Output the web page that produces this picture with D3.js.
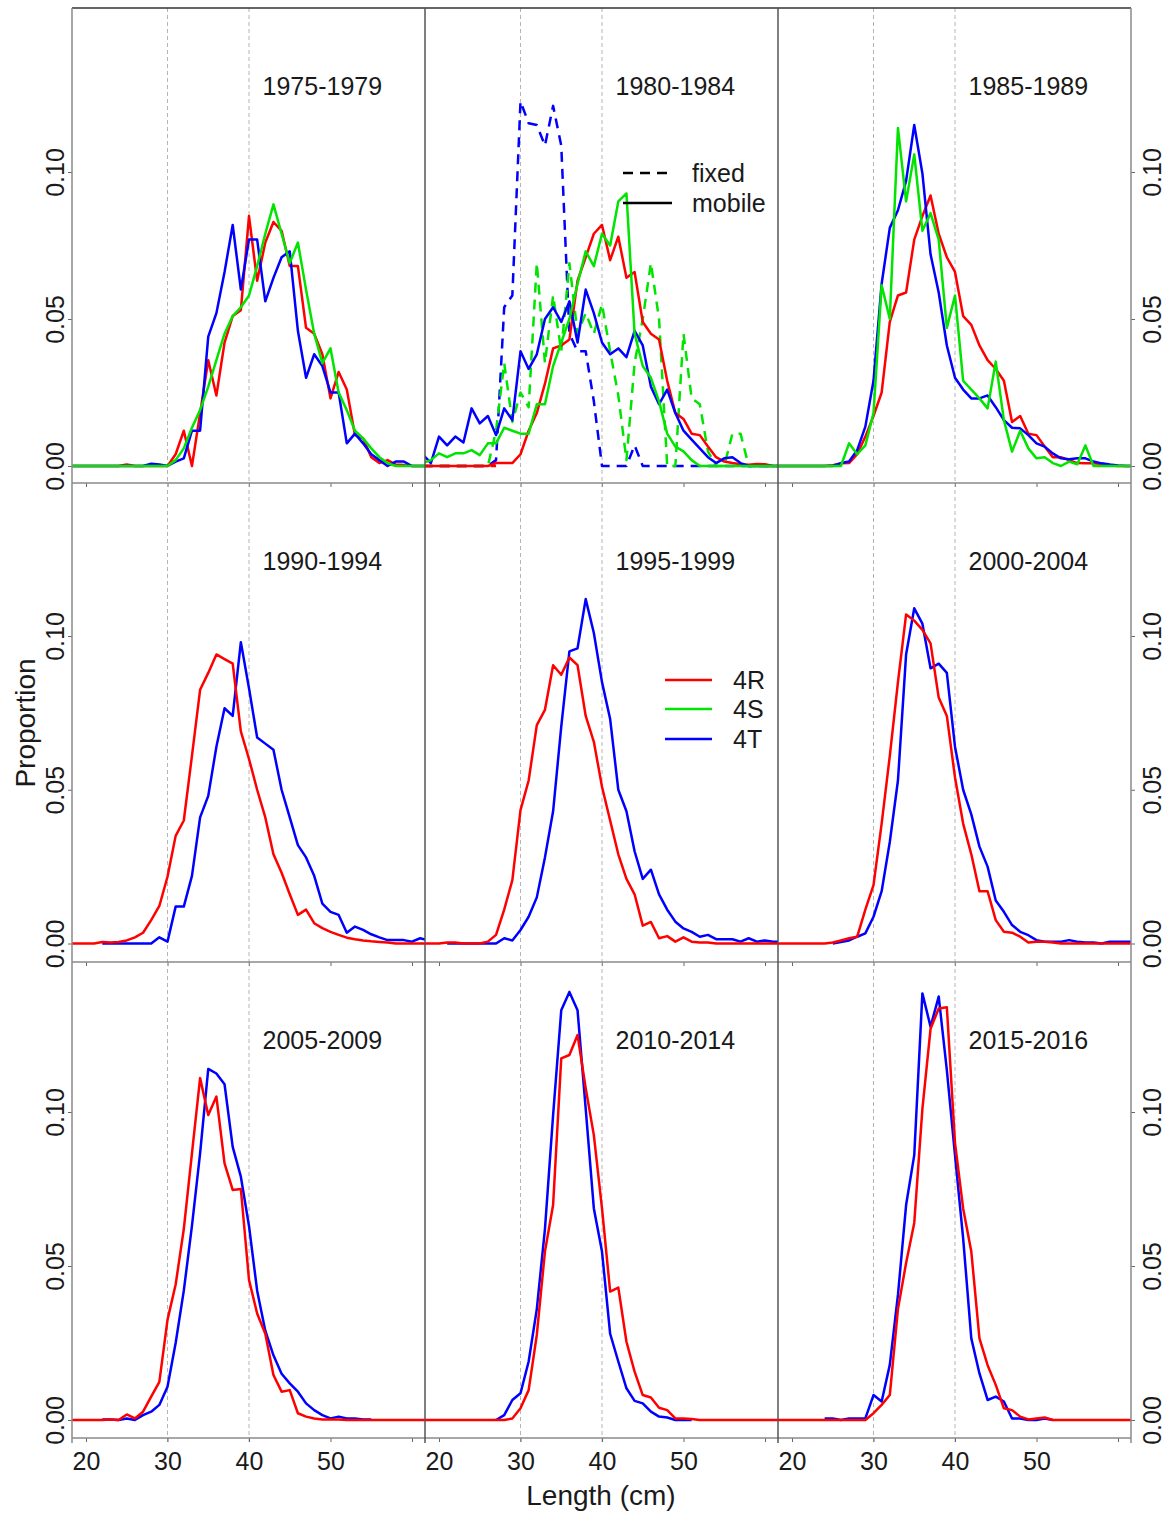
<!DOCTYPE html>
<html>
<head>
<meta charset="utf-8">
<script src="https://d3js.org/d3.v7.min.js"></script>
<style>
body { margin: 0; background: #fff; }
text { font-family: "Liberation Sans", Arial, sans-serif; fill: #1a1a1a; }
</style>
</head>
<body>
<script>
// length bins (cm)
var lengths = [18,19,20,21,22,23,24,25,26,27,28,29,
               30,31,32,33,34,35,36,37,38,39,
               40,41,42,43,44,45,46,47,48,49,
               50,51,52,53,54,55,56,57,58,59,60,61,62];

var periods = ["1975-1979","1980-1984","1985-1989",
               "1990-1994","1995-1999","2000-2004",
               "2005-2009","2010-2014","2015-2016"];

var xTicks = [20,30,40,50,60];
var yTicks = [0,0.05,0.10];
var gridAt = [30,40];

// 1975-1979 (mobile)
var r7579 = [0,0,0,0,0,0,0,0.0005,0,0,0,0,
  0,0.004,0.012,0,0.018,0.036,0.024,0.042,0.051,0.053,
  0.085,0.063,0.076,0.083,0.080,0.068,0.068,0.047,0.045,0.038,
  0.023,0.032,0.026,0.0105,0.0094,0.003,0.001,0.002,0.0005,0.0003,0,0,0];
var s7579 = [0,0,0,0,0,0,0,0,0,0,0,0,
  0,0.002,0.006,0.013,0.019,0.027,0.036,0.045,0.051,0.054,
  0.058,0.068,0.079,0.089,0.079,0.069,0.076,0.060,0.045,0.035,
  0.040,0.025,0.019,0.012,0.0094,0.006,0.003,0.001,0,0,0,0,0];
var t7579 = [0,0,0,0,0,0,0,0,0,0,0.0008,0.0005,
  0,0.0015,0.0026,0.012,0.012,0.044,0.052,0.066,0.082,0.060,
  0.077,0.077,0.056,0.064,0.071,0.073,0.046,0.030,0.038,0.034,
  0.025,0.025,0.0077,0.011,0.0077,0.004,0.002,0,0.0015,0.0015,0,0,0];

// 1980-1984 mobile
var r8084 = [0,0,0,0,0,0,0,0,0,0.001,0.001,0.001,
  0.004,0.012,0.018,0.028,0.040,0.041,0.043,0.063,0.071,0.079,
  0.082,0.070,0.078,0.064,0.066,0.049,0.045,0.043,0.029,0.018,
  0.016,0.011,0.0105,0.0066,0.003,0.0015,0.001,0.0006,0.0004,0.0007,0.0006,0,0];
var s8084 = [0.001,0.002,0.0043,0.003,0.0043,0.0043,0.0054,0.0037,0.0077,0.0077,0.013,0.012,
  0.011,0.011,0.021,0.021,0.034,0.042,0.050,0.062,0.073,0.068,
  0.079,0.075,0.090,0.0927,0.045,0.034,0.030,0.022,0.011,0.0066,
  0.005,0.002,0,0,0,0,0,0,0,0,0,0,0];
var t8084 = [0.004,0.001,0.010,0.007,0.010,0.008,0.0196,0.0145,0.017,0.0105,0.0196,0.0156,
  0.039,0.033,0.038,0.050,0.054,0.049,0.056,0.042,0.060,0.052,
  0.042,0.038,0.040,0.037,0.046,0.041,0.027,0.021,0.026,0.018,
  0.012,0.009,0.006,0.003,0.001,0.0026,0.003,0.001,0,0,0,0,0];
// 1980-1984 fixed
var r8084f = [0,0,0,0,0,0,0,0,0,0,null,null,
  null,null,null,null,null,null,null,null,null,null,
  null,null,null,null,null,null,null,null,null,null,
  null,null,null,null,null,null,null,null,null,null,null,null,null];
var s8084f = [0,0,0,0,0,0,0,0,0,0.012,0.035,0.015,
  0.025,0.020,0.069,0.035,0.058,0.039,0.069,0.045,0.052,0.045,
  0.055,0.039,0.024,0.002,0.035,0.050,0.069,0.050,0,0,
  0.045,0.023,0.021,0.005,0,0,0.011,0.011,0,0,0,0,0];
var t8084f = [0,0,0,0,0,0,0,0,0,0.002,0.054,0.058,
  0.124,0.1166,0.116,0.109,0.1225,0.109,0.045,0.039,0.039,0.022,
  0,0,0,0,0.007,0,0,0,0,0,
  0,0,0,0,0,0,0,0,0,0,0,0,0];

// 1985-1989
var r8589 = [0,0,0,0,0,0,0,0.0003,0.0009,0.001,0.004,0.010,
  0.017,0.025,0.049,0.058,0.059,0.077,0.085,0.092,0.079,0.071,
  0.066,0.051,0.048,0.041,0.036,0.033,0.029,0.015,0.017,0.011,
  0.0105,0.0066,0.003,0.003,0.002,0.001,0.0009,0.0009,0.0007,0.0002,0,0,0];
var s8589 = [0,0,0,0,0,0,0,0,0,0.0077,0.004,0.007,
  0.018,0.0615,0.050,0.115,0.090,0.106,0.080,0.086,0.077,0.047,
  0.058,0.029,0.026,0.023,0.0196,0.0355,0.0156,0.0049,0.012,0.006,
  0.0026,0.003,0.001,0,0.0015,0.0006,0.007,0,0,0,0,0,0];
var t8589 = [0,0,0,0,0,0,0,0,0.001,0.0015,0.0054,0.0134,
  0.029,0.062,0.081,0.087,0.097,0.116,0.0995,0.072,0.059,0.041,
  0.030,0.026,0.023,0.023,0.024,0.020,0.0156,0.013,0.0128,0.0105,
  0.0077,0.0066,0.0043,0.0026,0.0023,0.0026,0.0026,0.0015,0.0009,0.0005,0.0002,0,0];

// 1990-1994
var r9094 = [0,0,0,0,0.0005,0.0003,0.0005,0.001,0.002,0.0035,0.0076,0.0122,
  0.0217,0.035,0.040,0.061,0.0825,0.088,0.094,0.0925,0.091,0.069,
  0.060,0.050,0.041,0.029,0.023,0.016,0.0093,0.011,0.0066,0.005,
  0.0038,0.0028,0.0019,0.0014,0.001,0.0007,0.0005,0.0003,0,0,0,0,0];
var t9094 = [null,null,null,null,0,0,0,0,0,0,0,0.002,
  0.0006,0.012,0.012,0.022,0.041,0.048,0.064,0.0765,0.074,0.098,
  0.083,0.067,0.065,0.063,0.050,0.041,0.032,0.028,0.022,0.013,
  0.0103,0.0093,0.0035,0.0055,0.0044,0.003,0.002,0.0011,0.0011,0.0011,0.0006,0.0017,0.001];

// 1995-1999
var r9599 = [0,0,0,0.0003,0.0003,0,0,0,0.0006,0.0028,0.011,0.0206,
  0.0434,0.053,0.071,0.076,0.0905,0.0874,0.093,0.0905,0.074,0.0656,
  0.051,0.040,0.029,0.021,0.016,0.0058,0.007,0.0017,0.0024,0.0006,
  0.002,0.0006,0.0003,0.0003,0,0,0,0,0,0,0,0,0];
var t9599 = [null,null,null,0,0,0,0,0,0,0,0.0017,0.001,
  0.0044,0.0087,0.015,0.028,0.043,0.0705,0.095,0.096,0.112,0.101,
  0.085,0.073,0.050,0.043,0.030,0.021,0.024,0.016,0.011,0.0071,
  0.0049,0.0038,0.0022,0.0028,0.0014,0.0014,0.0014,0.0006,0.0017,0.0006,0.001,0.0006,0.0006];

// 2000-2004
var r0004 = [0,0,0,0,0,0,0,0.0003,0.001,0.0017,0.0022,0.011,
  0.019,0.039,0.061,0.085,0.107,0.105,0.102,0.0976,0.080,0.074,
  0.054,0.039,0.029,0.017,0.017,0.0076,0.0038,0.0035,0.0022,0.0003,
  0.0006,0.0006,0.0003,0,0,0,0,0,0,0,0,0,0];
var t0004 = [null,null,null,null,null,null,null,0,0.0005,0.001,0.0022,0.0033,
  0.0087,0.017,0.033,0.053,0.094,0.109,0.104,0.0895,0.091,0.088,
  0.064,0.050,0.042,0.0315,0.025,0.014,0.0103,0.006,0.0038,0.0027,
  0.0011,0.0006,0.0006,0.0006,0.0011,0.0006,0.0003,0.0003,0,0.0006,0.0006,0.0006,0.0006];

// 2005-2009
var r0509 = [0,0,0,0,0,0.0002,0,0.0018,0.0005,0.0027,0.0076,0.0124,
  0.0325,0.044,0.062,0.0866,0.111,0.099,0.105,0.0833,0.0747,0.075,
  0.0455,0.0346,0.028,0.0146,0.0092,0.0097,0.0022,0.0011,0.0005,0.0002,
  0.0002,0.0002,0,0,0,0,0,0,0,0,0,0,0];
var t0509 = [null,null,null,null,0.0002,0.0002,0,0.0005,0,0.0016,0.0027,0.0049,
  0.0108,0.025,0.042,0.063,0.0866,0.114,0.1125,0.109,0.0887,0.079,
  0.063,0.042,0.029,0.021,0.015,0.0119,0.0092,0.0054,0.0032,0.0016,
  0.0005,0.0011,0.0005,0.0005,0.0002,0.0002,null,null,null,null,null,null,null];

// 2010-2014
var r1014 = [0,0,0,0,0,0,0,0,0,0,0,0.0005,
  0.0038,0.0097,0.0276,0.0547,0.0698,0.1174,0.1185,0.125,0.1077,0.0925,
  0.0687,0.0417,0.043,0.0254,0.0157,0.0081,0.0073,0.004,0.0032,0.0005,
  0.0005,0.0003,0,0,0,0,0,0,0,0,0,0,0];
var t1014 = [null,null,null,null,null,null,null,null,null,0,0.0016,0.0065,
  0.0087,0.019,0.036,0.062,0.099,0.133,0.139,0.133,0.101,0.0687,
  0.0547,0.028,0.019,0.0103,0.0062,0.0054,0.0027,0.0011,0.0008,0,
  0,0,null,null,null,null,null,null,null,null,null,null,null];

// 2015-2016
var r1516 = [0,0,0,0,0,0,0,0,0,0,0,0,
  0.0022,0.0049,0.0081,0.036,0.051,0.064,0.101,0.127,0.1336,0.134,
  0.090,0.0687,0.0547,0.0265,0.0178,0.0114,0.0038,0.0032,0.0011,0.0002,
  0.0005,0.0008,0,0,0,0,0,0,0,0,0,0,0];
var t1516 = [null,null,null,null,null,null,0.0005,0.0005,0,0.0005,0.0005,0.0005,
  0.0081,0.006,0.0179,0.0406,0.0698,0.086,0.1385,0.1277,0.1375,0.1136,
  0.086,0.059,0.0265,0.0151,0.0065,0.0076,0.006,0.0005,0.0005,0,
  0,0.0005,0,null,null,null,null,null,null,null,null,null,null];

var colR = "#ff0000", colS = "#00e400", colT = "#0000ff";

var panels = [
  [{v: r7579, c: colR}, {v: t7579, c: colT}, {v: s7579, c: colS}],
  [{v: t8084f, c: colT, d: true}, {v: s8084f, c: colS, d: true}, {v: r8084f, c: colR, d: true},
   {v: r8084, c: colR}, {v: t8084, c: colT}, {v: s8084, c: colS}],
  [{v: r8589, c: colR}, {v: t8589, c: colT}, {v: s8589, c: colS}],
  [{v: t9094, c: colT}, {v: r9094, c: colR}],
  [{v: t9599, c: colT}, {v: r9599, c: colR}],
  [{v: t0004, c: colT}, {v: r0004, c: colR}],
  [{v: t0509, c: colT}, {v: r0509, c: colR}],
  [{v: t1014, c: colT}, {v: r1014, c: colR}],
  [{v: t1516, c: colT}, {v: r1516, c: colR}]
];

// layout
var colLeft = [72, 425, 778], panelW = 353;
var rowTop = [8, 483, 962], rowBot = [483, 962, 1438];
var rowZero = [466, 943.5, 1420], rowTen = [172, 636, 1112];
var frameL = 72, frameR = 1131;

var svg = d3.select("body")
            .append("svg")
            .attr("width", 1172)
            .attr("height", 1513);

svg.append("rect").attr("width", 1172).attr("height", 1513).attr("fill", "#fff");

var defs = svg.append("defs");

panels.forEach(function(lines, i) {
  var col = i % 3, row = Math.floor(i / 3);
  var x = d3.scaleLinear().domain([20, 60]).range([colLeft[col] + 14, colLeft[col] + 340]);
  var y = d3.scaleLinear().domain([0, 0.1]).range([rowZero[row], rowTen[row]]);

  // dashed reference lines at 30 and 40 cm
  svg.selectAll(null)
     .data(gridAt)
     .enter()
     .append("line")
     .attr("x1", function(d) {return x(d)})
     .attr("x2", function(d) {return x(d)})
     .attr("y1", rowTop[row])
     .attr("y2", rowBot[row] + (row == 2 ? 6 : 0))
     .attr("stroke", "#b4b4b4")
     .attr("stroke-width", 1)
     .attr("stroke-dasharray", "4,3");

  defs.append("clipPath")
      .attr("id", "clip" + i)
      .append("rect")
      .attr("x", colLeft[col])
      .attr("y", rowTop[row])
      .attr("width", panelW)
      .attr("height", rowBot[row] - rowTop[row]);

  var line = d3.line()
               .defined(function(d) {return d[1] != null})
               .x(function(d) {return x(d[0])})
               .y(function(d) {return y(d[1])});

  svg.append("g")
     .attr("clip-path", "url(#clip" + i + ")")
     .selectAll("path")
     .data(lines)
     .enter()
     .append("path")
     .attr("d", function(s) {return line(lengths.map(function(c, k) {return [c, s.v[k]]}))})
     .attr("fill", "none")
     .attr("stroke", function(s) {return s.c})
     .attr("stroke-width", 2.5)
     .attr("stroke-linejoin", "round")
     .attr("stroke-dasharray", function(s) {return s.d ? "10,7" : null});

  // bottom axis of each panel
  var xAxis = d3.axisBottom(x)
                .tickValues(xTicks)
                .tickSize(4)
                .tickPadding(10)
                .tickFormat(function(d) {return (row == 2 && d < 60) ? d : ""});
  var gx = svg.append("g")
              .attr("transform", "translate(0," + rowBot[row] + ")")
              .attr("color", "#666")
              .call(xAxis);
  gx.select(".domain").remove();
  gx.selectAll("text")
    .attr("font-size", 25)
    .attr("font-family", "Liberation Sans, Arial, sans-serif")
    .style("fill", "#1a1a1a");

  // y axis on outer columns
  if (col == 0 || col == 2) {
    var yAxis = (col == 0 ? d3.axisLeft(y) : d3.axisRight(y))
                  .tickValues(yTicks)
                  .tickSize(4)
                  .tickFormat(d3.format(".2f"));
    var gy = svg.append("g")
                .attr("transform", "translate(" + (col == 0 ? frameL : frameR) + ",0)")
                .attr("color", "#666")
                .call(yAxis);
    gy.select(".domain").remove();
    gy.selectAll("text")
      .attr("x", null)
      .attr("dy", null)
      .attr("text-anchor", "middle")
      .attr("dominant-baseline", "central")
      .attr("transform", "translate(" + (col == 0 ? -17 : 21) + ",0) rotate(-90)")
      .attr("font-size", 25)
      .attr("font-family", "Liberation Sans, Arial, sans-serif")
      .style("fill", "#1a1a1a");
  }

  svg.append("text")
     .attr("x", x(49))
     .attr("y", rowTop[row] + 78)
     .attr("text-anchor", "middle")
     .attr("dominant-baseline", "central")
     .attr("font-size", 25)
     .text(periods[i]);
});

// frame: horizontal axis lines and panel separators
svg.selectAll(null)
   .data(rowBot)
   .enter()
   .append("line")
   .attr("x1", frameL).attr("x2", frameR)
   .attr("y1", function(d) {return d}).attr("y2", function(d) {return d})
   .attr("stroke", "#8a8a8a")
   .attr("stroke-width", 1.5);

svg.append("line")
   .attr("x1", frameL).attr("x2", frameR)
   .attr("y1", 8).attr("y2", 8)
   .attr("stroke", "#333")
   .attr("stroke-width", 1.5);

svg.selectAll(null)
   .data([frameL, 425, 778, frameR])
   .enter()
   .append("line")
   .attr("x1", function(d) {return d}).attr("x2", function(d) {return d})
   .attr("y1", 8).attr("y2", 1443)
   .attr("stroke", function(d) {return (d == frameL || d == frameR) ? "#8a8a8a" : "#555"})
   .attr("stroke-width", 1.5);

// legend: gear type
var gearLegend = [{label: "fixed", dash: "10,7", y: 173}, {label: "mobile", dash: null, y: 203}];
var lg1 = svg.append("g");
lg1.selectAll("line")
   .data(gearLegend)
   .enter()
   .append("line")
   .attr("x1", 623).attr("x2", 672)
   .attr("y1", function(d) {return d.y}).attr("y2", function(d) {return d.y})
   .attr("stroke", "#000")
   .attr("stroke-width", 2.5)
   .attr("stroke-dasharray", function(d) {return d.dash});
lg1.selectAll("text")
   .data(gearLegend)
   .enter()
   .append("text")
   .attr("x", 692)
   .attr("y", function(d) {return d.y})
   .attr("dominant-baseline", "central")
   .attr("font-size", 25)
   .text(function(d) {return d.label});

// legend: area
var areaLegend = [{label: "4R", c: colR, y: 680}, {label: "4S", c: colS, y: 709}, {label: "4T", c: colT, y: 739}];
var lg2 = svg.append("g");
lg2.selectAll("line")
   .data(areaLegend)
   .enter()
   .append("line")
   .attr("x1", 665).attr("x2", 712)
   .attr("y1", function(d) {return d.y}).attr("y2", function(d) {return d.y})
   .attr("stroke", function(d) {return d.c})
   .attr("stroke-width", 2.5);
lg2.selectAll("text")
   .data(areaLegend)
   .enter()
   .append("text")
   .attr("x", 733)
   .attr("y", function(d) {return d.y})
   .attr("dominant-baseline", "central")
   .attr("font-size", 25)
   .text(function(d) {return d.label});

// axis titles
svg.append("text")
   .attr("x", 601).attr("y", 1495)
   .attr("text-anchor", "middle")
   .attr("dominant-baseline", "central")
   .attr("font-size", 28)
   .text("Length (cm)");

svg.append("text")
   .attr("transform", "translate(25,723) rotate(-90)")
   .attr("text-anchor", "middle")
   .attr("dominant-baseline", "central")
   .attr("font-size", 28)
   .text("Proportion");
</script>
</body>
</html>
